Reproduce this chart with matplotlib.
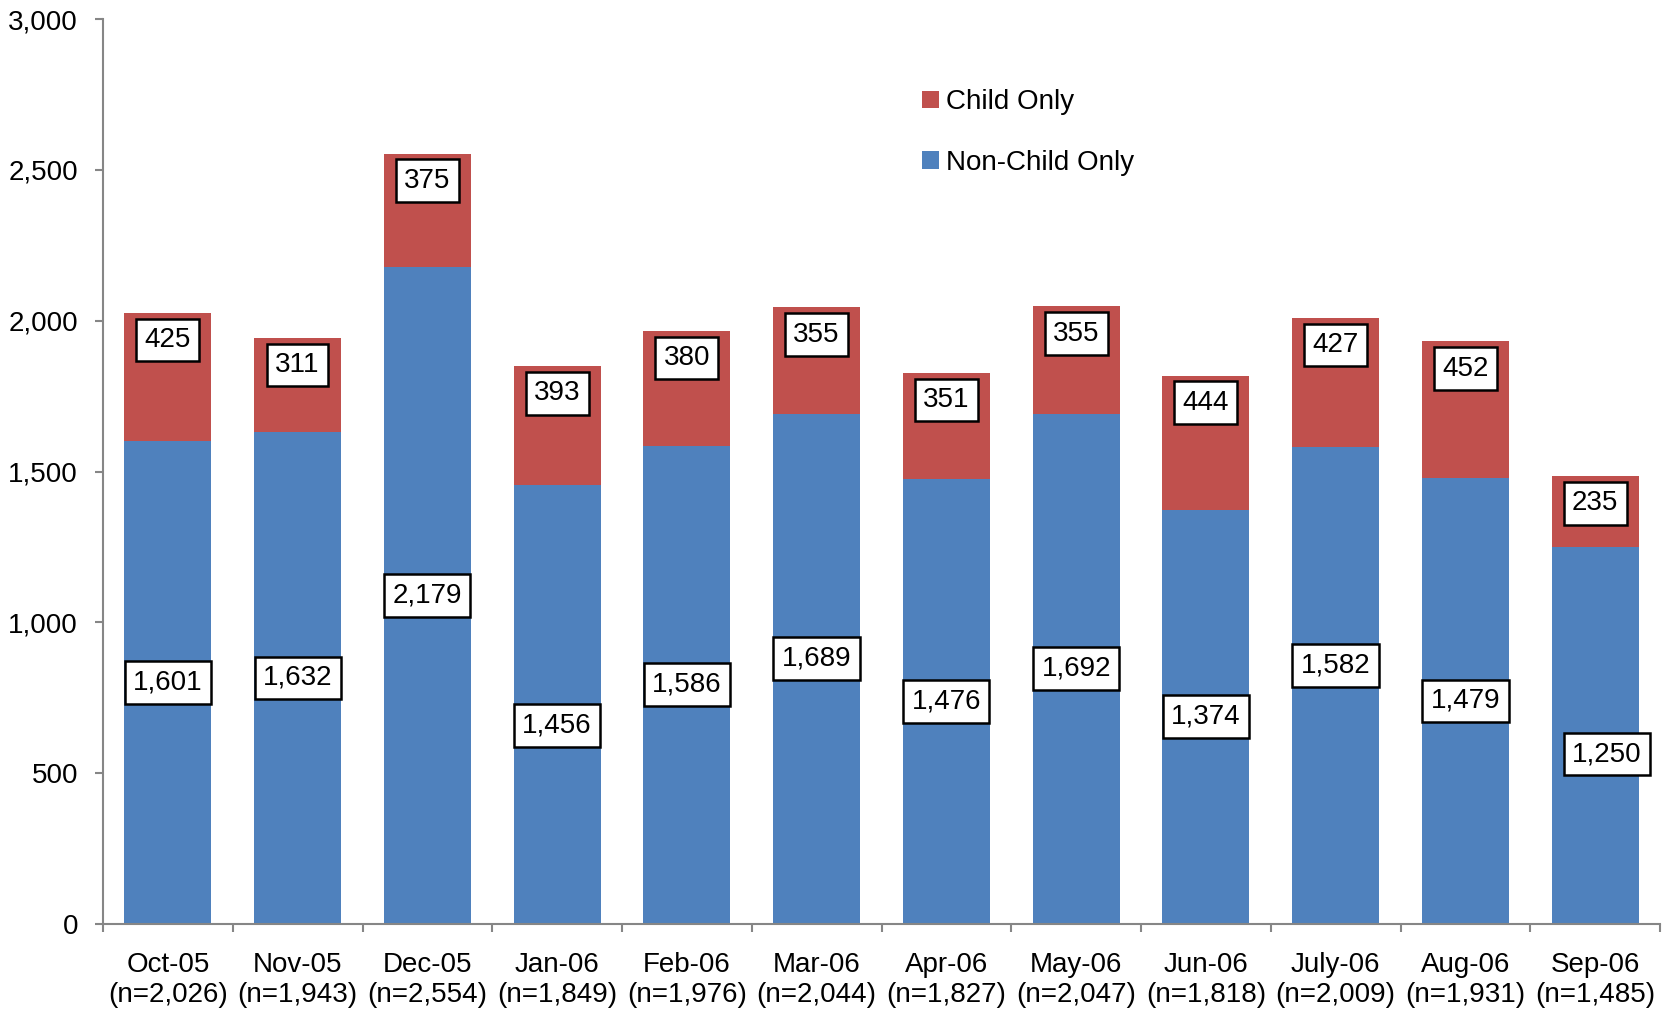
import numpy as np
import matplotlib.pyplot as plt

plt.rcParams['font.family'] = ['Liberation Sans', 'DejaVu Sans']

months = ['Oct-05', 'Nov-05', 'Dec-05', 'Jan-06', 'Feb-06', 'Mar-06',
          'Apr-06', 'May-06', 'Jun-06', 'July-06', 'Aug-06', 'Sep-06']
n_total = ['2,026', '1,943', '2,554', '1,849', '1,976', '2,044',
           '1,827', '2,047', '1,818', '2,009', '1,931', '1,485']
non_child = [1601, 1632, 2179, 1456, 1586, 1689, 1476, 1692, 1374, 1582, 1479, 1250]
child = [425, 311, 375, 393, 380, 355, 351, 355, 444, 427, 452, 235]

blue = '#4F81BD'
red = '#C0504D'
grey = '#868686'
fs = 20

fig = plt.figure(figsize=(16.63, 10.14), dpi=100)
ax = fig.add_axes([103 / 1663, 90 / 1014, 1557 / 1663, 905 / 1014])

x = np.arange(len(months))
w = 0.67
ax.bar(x, non_child, w, color=blue, label='Non-Child Only', zorder=2)
ax.bar(x, child, w, bottom=non_child, color=red, label='Child Only', zorder=2)

# label nudges (data units) for the blue segment labels, as placed in the original
nudge_y = [0, 0, 0, -70, 0, 35, 0, 0, 0, 67, 0, -62]
nudge_x = [0, 0, 0, 0, 0, 0, 0, 0, 0, 0, 0, 0.09]

box = dict(boxstyle='square,pad=0.3', fc='white', ec='black', lw=1.8)
for i in range(len(months)):
    ax.text(x[i] + nudge_x[i], non_child[i] / 2 + nudge_y[i], f'{non_child[i]:,}',
            ha='center', va='center', fontsize=fs, bbox=box, zorder=3)
    top = non_child[i] + child[i]
    ax.text(x[i], top - 90, f'{child[i]:,}',
            ha='center', va='center', fontsize=fs, bbox=box, zorder=3)

ax.set_xlim(-0.5, len(months) - 0.5)
ax.set_ylim(0, 3000)
ax.set_yticks(np.arange(0, 3001, 500))
ax.set_yticklabels([f'{v:,}' for v in range(0, 3001, 500)])
ax.set_xticks(x)
ax.set_xticklabels([f'{m}\n(n={n})' for m, n in zip(months, n_total)])
ax.set_xticks(np.arange(-0.5, len(months)), minor=True)

ax.tick_params(axis='x', which='major', length=0, pad=20, labelsize=fs)
ax.tick_params(axis='x', which='minor', length=6, width=1.5, color=grey, direction='out')
ax.tick_params(axis='y', length=6, width=1.5, color=grey, pad=12, labelsize=fs)

for s in ['top', 'right']:
    ax.spines[s].set_visible(False)
for s in ['left', 'bottom']:
    ax.spines[s].set_color(grey)
    ax.spines[s].set_linewidth(1.5)

h, l = ax.get_legend_handles_labels()
ax.legend(h[::-1], l[::-1], loc='upper left', bbox_to_anchor=(0.51, 0.95),
          frameon=False, fontsize=fs, handlelength=0.6, handleheight=0.6,
          handletextpad=0.25, labelspacing=1.25)

fig.savefig('out.png', dpi=100)
